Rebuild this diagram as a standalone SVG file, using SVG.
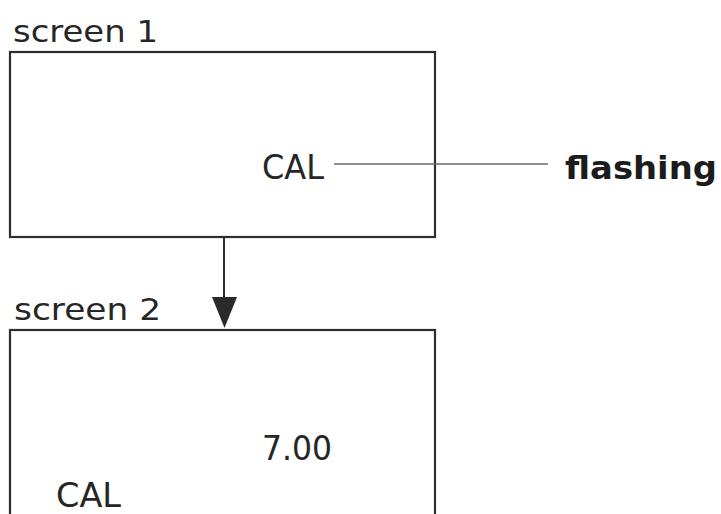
<svg xmlns="http://www.w3.org/2000/svg" width="721" height="514" viewBox="0 0 721 514">
<style>
.box{fill:none;stroke:#2e2e2e;stroke-width:2.2}
.t{font-family:"DejaVu Sans","Liberation Sans",sans-serif;fill:#262626}
.lbl{font-size:31px}
.disp{font-size:34px}
.bold{font-size:32px;font-weight:bold;fill:#1c1c1c}
.conn{stroke:#2e2e2e;stroke-width:2;fill:none}
.lead{stroke:#6a6a6a;stroke-width:1.5;fill:none}
</style>
<rect width="721" height="514" fill="#ffffff"/>
<g id="screen1">
<text class="t lbl" x="13" y="42" textLength="145" lengthAdjust="spacingAndGlyphs">screen 1</text>
<rect class="box" x="10" y="52" width="425" height="185"/>
<text class="t disp" x="262" y="179" textLength="62" lengthAdjust="spacingAndGlyphs">CAL</text>
</g>
<g id="flashing">
<text class="t bold" x="565" y="179" textLength="152" lengthAdjust="spacingAndGlyphs">flashing</text>
</g>
<g id="screen2">
<text class="t lbl" x="14" y="320" textLength="147" lengthAdjust="spacingAndGlyphs">screen 2</text>
<rect class="box" x="10" y="330" width="425" height="200"/>
<text class="t disp" x="262" y="460" textLength="70" lengthAdjust="spacingAndGlyphs">7.00</text>
<text class="t disp" x="56" y="507" textLength="65" lengthAdjust="spacingAndGlyphs">CAL</text>
</g>
<g id="connectors">
<line class="lead" x1="334" y1="164" x2="548" y2="164"/>
<line class="conn" x1="224" y1="237" x2="224" y2="300"/>
<path d="M212,297 L237,297 L224.5,328 Z" fill="#2a2a2a"/>
</g>
</svg>
